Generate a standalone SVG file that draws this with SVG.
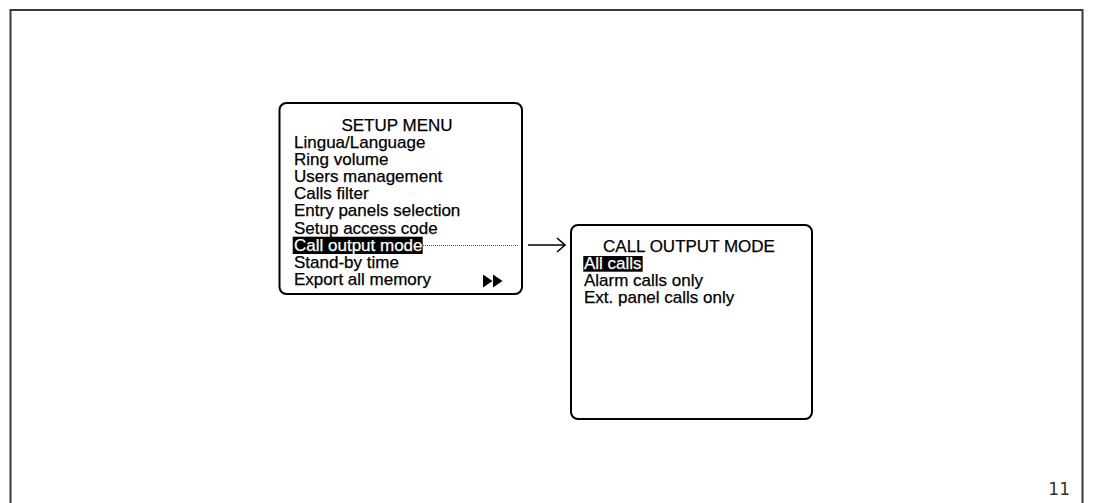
<svg xmlns="http://www.w3.org/2000/svg" width="1093" height="503" viewBox="0 0 1093 503">
<style>
.t{font-family:"Liberation Sans",Arial,sans-serif;font-size:17px;fill:#000;stroke:#000;stroke-width:0.25}
.w{fill:#fff;stroke:#fff}
.box{fill:#fff;stroke:#000;stroke-width:2}
.hl{fill:#000}
</style>
<defs>
<marker id="arr" markerWidth="12" markerHeight="16" refX="10" refY="8" orient="auto" markerUnits="userSpaceOnUse">
<path d="M2,1 L10,8 L2,15" fill="none" stroke="#000" stroke-width="1.6"/>
</marker>
</defs>
<rect width="1093" height="503" fill="#fff"/>
<path d="M10.5,503 V10 H1082.5 V503" fill="none" stroke="#3a3a3a" stroke-width="2"/>
<text x="1070" y="495" text-anchor="end" font-family="'DejaVu Sans',sans-serif" font-size="17" fill="#333">11</text>
<g id="setup-menu">
<rect class="box" x="279.5" y="103" width="242.5" height="191" rx="7"/>
<text class="t" x="397" y="130.5" text-anchor="middle">SETUP MENU</text>
<text class="t" x="294" y="147.5">Lingua/Language</text>
<text class="t" x="294" y="164.7">Ring volume</text>
<text class="t" x="294" y="181.9">Users management</text>
<text class="t" x="294" y="199.1">Calls filter</text>
<text class="t" x="294" y="216.3">Entry panels selection</text>
<text class="t" x="294" y="233.5">Setup access code</text>
<rect class="hl" x="292.7" y="236.7" width="130" height="17.3"/>
<text class="t w" x="294" y="250.7">Call output mode</text>
<text class="t" x="294" y="267.9">Stand-by time</text>
<text class="t" x="294" y="285.1">Export all memory</text>
<path d="M483,274.5 L492.5,281 L483,287.5 Z M493,274.5 L502.5,281 L493,287.5 Z" fill="#000"/>
</g>
<g id="call-output-mode">
<rect class="box" x="571" y="225" width="241" height="194" rx="7"/>
<text class="t" x="689" y="251.5" text-anchor="middle">CALL OUTPUT MODE</text>
<rect class="hl" x="583.3" y="256" width="59.4" height="15.7"/>
<text class="t w" x="584" y="268.5">All calls</text>
<text class="t" x="584" y="285.5">Alarm calls only</text>
<text class="t" x="584" y="302.5">Ext. panel calls only</text>
</g>
<g id="connectors">
<line x1="423" y1="245.5" x2="518" y2="245.5" stroke="#555" stroke-width="1" stroke-dasharray="1,1"/>
<line x1="528" y1="245" x2="565" y2="245" stroke="#000" stroke-width="1.6" marker-end="url(#arr)"/>
</g>
</svg>
